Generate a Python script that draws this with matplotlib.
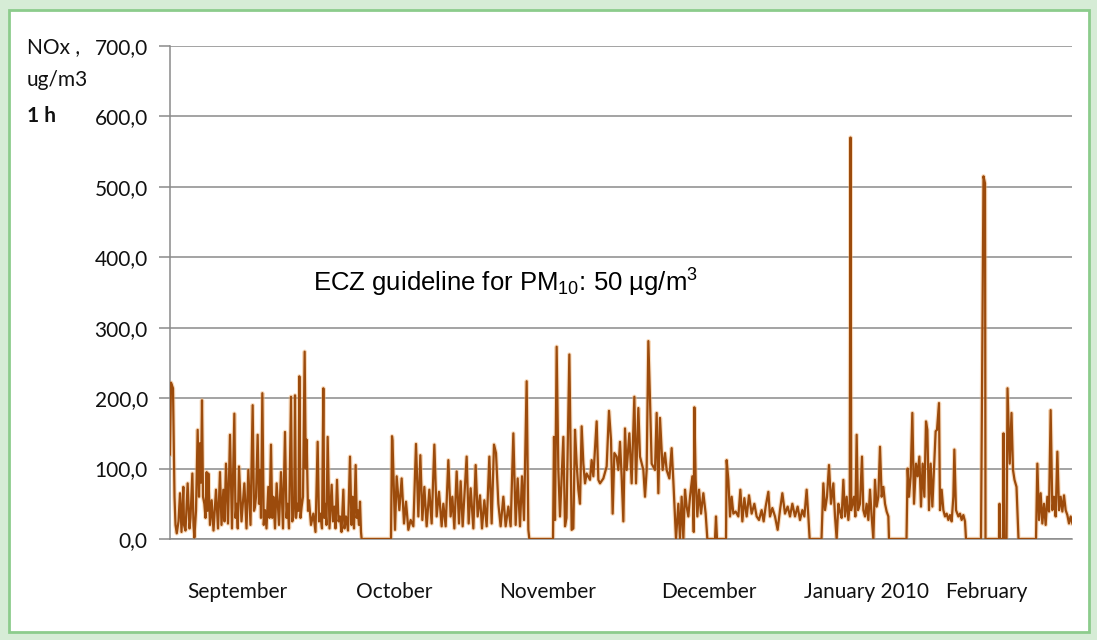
import numpy as np
import matplotlib
matplotlib.use("Agg")
import matplotlib.pyplot as plt
from matplotlib.patches import Rectangle

plt.rcParams['mathtext.fontset'] = 'custom'
plt.rcParams['mathtext.rm'] = 'Liberation Sans'
plt.rcParams['mathtext.it'] = 'Liberation Sans:italic'

# NOx hourly means, as (day since 1 Sep, ug/m3)
sep_readings = [(0.0, 120), (0.2, 222), (0.6, 214), (0.9, 60), (1.1, 20), (1.35, 8), (1.7, 25), (2.0, 65),
                (2.3, 10), (2.67, 74), (2.8, 20), (3.1, 12), (3.53, 79), (3.9, 15), (4.1, 30), (4.47, 93),
                (4.7, 20), (4.87, 2), (5.2, 40), (5.53, 155), (5.8, 60), (6.0, 136), (6.2, 80), (6.4, 197),
                (6.6, 60), (6.87, 50), (7.1, 30), (7.33, 95), (7.5, 40), (7.67, 93), (8.0, 20), (8.33, 55),
                (8.7, 12), (9.2, 70), (9.6, 15), (10.0, 95), (10.3, 20), (10.67, 70), (10.9, 25), (11.2, 107),
                (11.6, 22), (12.0, 148), (12.4, 15), (12.87, 178), (13.1, 30), (13.33, 50), (13.55, 15),
                (13.8, 103), (14.3, 25), (14.87, 79), (15.3, 15), (15.67, 98), (16.1, 20), (16.53, 190),
                (16.8, 40), (17.0, 46), (17.2, 60), (17.53, 148), (17.8, 50), (18.0, 98), (18.2, 30),
                (18.47, 207), (18.75, 20), (19.0, 41), (19.3, 15), (19.67, 74), (19.9, 30), (20.2, 134),
                (20.45, 30), (20.67, 60), (21.0, 15), (21.33, 79), (21.8, 20), (22.2, 95), (22.6, 15),
                (23.0, 152), (23.3, 30), (23.53, 50), (23.8, 15), (24.2, 202), (24.45, 25), (24.67, 32),
                (24.85, 60), (25.0, 204), (25.2, 30), (25.47, 50), (25.7, 40), (25.87, 231), (26.1, 30),
                (26.33, 46), (26.6, 60), (26.93, 266), (27.15, 100), (27.33, 141), (27.6, 40), (27.8, 55),
                (28.2, 20), (28.67, 36), (29.1, 10), (29.53, 138), (29.8, 25), (30.07, 36), (30.4, 15),
                (30.67, 214), (30.85, 30), (31.0, 50), (31.3, 20), (31.53, 145), (31.9, 15), (32.33, 77),
                (32.6, 25), (32.87, 46), (33.1, 15), (33.4, 84), (33.7, 25), (34.0, 32), (34.3, 10),
                (34.67, 70), (34.9, 15), (35.2, 32), (35.6, 12), (36.0, 117), (36.3, 20), (36.53, 60),
                (36.8, 15), (37.13, 105), (37.35, 30), (37.53, 41), (37.8, 20), (38.0, 53), (38.2, 10),
                (38.33, 0)]

oct_readings = [(44.2, 0), (44.4, 146), (44.5, 140), (45.0, 13), (45.33, 89), (45.87, 41), (46.33, 86),
                (46.8, 22), (47.2, 53), (47.67, 13), (48.13, 27), (48.67, 18), (49.2, 135), (49.67, 32),
                (50.07, 119), (50.47, 27), (50.87, 74), (51.33, 18), (51.87, 70), (52.33, 22), (52.87, 134),
                (53.33, 32), (53.8, 67), (54.33, 18), (54.67, 50), (55.13, 18), (55.67, 112), (56.13, 32),
                (56.47, 60), (56.87, 15), (57.33, 96), (57.8, 22), (58.13, 82), (58.53, 18), (59.33, 117),
                (59.73, 22), (60.13, 72), (60.67, 15), (61.13, 105), (61.53, 32), (62.0, 62), (62.4, 15),
                (62.87, 55), (63.33, 18), (63.87, 117), (64.33, 22), (64.8, 134), (65.2, 122), (65.67, 50),
                (66.13, 18), (66.67, 60), (67.13, 18), (67.67, 46), (68.13, 18), (68.67, 150), (69.13, 20),
                (69.53, 86), (70.0, 18), (70.4, 89), (70.8, 27), (71.33, 224), (71.67, 13), (71.87, 0)]

nov_readings = [(76.6, 0), (76.8, 145), (77.0, 27), (77.33, 273), (77.67, 98), (78.0, 32), (78.67, 145),
                (79.0, 18), (79.3, 30), (79.87, 262), (80.33, 13), (80.67, 15), (81.0, 155), (81.33, 107),
                (81.67, 70), (82.0, 50), (82.33, 160), (82.67, 107), (83.0, 79), (83.33, 93), (84.0, 84),
                (84.33, 112), (84.67, 89), (85.33, 167), (85.67, 84), (86.0, 79), (86.67, 86), (87.33, 103),
                (87.8, 182), (88.2, 141), (88.53, 36), (88.87, 122), (89.33, 117), (89.67, 98), (90.0, 138),
                (90.33, 89), (90.67, 25), (91.0, 157), (91.33, 98), (91.87, 150), (92.33, 79), (92.87, 202),
                (93.2, 79), (93.67, 186), (94.0, 117), (94.67, 98), (95.0, 60), (95.33, 98), (95.67, 281),
                (96.0, 198), (96.33, 107), (97.0, 98), (97.33, 179), (97.67, 65), (98.0, 172), (98.53, 98),
                (99.0, 122), (99.33, 98), (99.87, 86), (100.33, 129), (100.67, 82), (101.2, 0),
                (101.67, 50), (102.0, 0), (102.33, 60), (102.67, 0), (103.0, 70), (103.33, 46),
                (103.67, 32), (104.0, 60), (104.47, 89), (104.75, 10), (104.87, 187), (105.13, 84),
                (105.47, 32), (105.8, 70), (106.2, 36), (106.67, 65), (107.13, 36), (107.47, 0),
                (109.0, 0), (109.2, 32), (109.4, 0)]

dec_readings = [(111.2, 0), (111.33, 112), (111.67, 84), (112.0, 32), (112.33, 60), (112.67, 36),
                (113.13, 39), (113.67, 32), (114.07, 70), (114.47, 25), (114.87, 58), (115.33, 32),
                (115.8, 62), (116.33, 36), (116.87, 50), (117.33, 32), (117.8, 27), (118.33, 41),
                (118.73, 25), (119.13, 46), (119.67, 67), (120.0, 32), (120.47, 44), (121.0, 32),
                (121.53, 13), (122.0, 41), (122.47, 65), (123.0, 36), (123.53, 46), (124.0, 32),
                (124.47, 50), (125.0, 32), (125.53, 46), (126.0, 27), (126.47, 41), (126.87, 32),
                (127.33, 70), (127.67, 32), (127.93, 0)]

jan_readings = [(130.3, 0), (130.67, 79), (131.0, 41), (131.4, 60), (131.8, 105), (132.2, 50), (132.67, 79),
                (133.0, 32), (133.33, 0), (133.67, 50), (134.0, 39), (134.33, 30), (134.67, 84), (135.0, 32),
                (135.33, 60), (135.67, 27), (135.95, 50), (136.1, 570), (136.25, 41), (136.8, 60),
                (137.07, 32), (137.33, 148), (137.6, 41), (138.0, 50), (138.4, 117), (138.67, 41), (139.0, 32),
                (139.33, 50), (139.67, 27), (140.0, 70), (140.33, 32), (140.67, 0), (141.0, 84), (141.33, 46),
                (141.67, 60), (142.0, 131), (142.33, 60), (142.67, 74), (143.0, 50), (143.33, 39),
                (143.67, 32), (143.8, 0)]

feb_readings = [(147.3, 0), (147.53, 100), (147.8, 60), (148.13, 89), (148.47, 179), (148.8, 50), (149.2, 107),
                (149.53, 89), (149.87, 117), (150.2, 46), (150.53, 107), (150.87, 60), (151.2, 167),
                (151.47, 155), (151.8, 41), (152.13, 107), (152.47, 46), (152.87, 112), (153.13, 153),
                (153.4, 155), (153.8, 193), (154.0, 41), (154.33, 70), (154.67, 41), (155.0, 32), (155.33, 36),
                (155.67, 27), (156.0, 34), (156.33, 25), (156.67, 60), (156.87, 127), (157.2, 41), (157.67, 32),
                (158.0, 36), (158.33, 27), (158.67, 34), (159.0, 25), (159.2, 0),
                (162.2, 0), (162.5, 305), (162.7, 515), (163.0, 505), (163.1, 0),
                (165.8, 0), (165.9, 50), (166.0, 0), (166.6, 0), (166.7, 150), (166.85, 0), (167.3, 0),
                (167.5, 214), (167.75, 155), (167.95, 107), (168.3, 179), (168.6, 98), (168.9, 84),
                (169.3, 74), (169.7, 0),
                (173.2, 0), (173.47, 107), (173.8, 27), (174.13, 65), (174.47, 22), (174.8, 50), (175.13, 20),
                (175.47, 60), (175.8, 39), (176.13, 183), (176.47, 41), (176.8, 60), (177.13, 32), (177.47, 124),
                (177.8, 41), (178.13, 60), (178.47, 39), (178.8, 62), (179.13, 41), (179.47, 34), (179.8, 22),
                (180.13, 32), (180.47, 22)]

months = ['September', 'October', 'November', 'December', 'January 2010', 'February']
y_ticks = [0, 100, 200, 300, 400, 500, 600, 700]

readings = sep_readings + oct_readings + nov_readings + dec_readings + jan_readings + feb_readings
days = np.array([r[0] for r in readings])
nox = np.array([r[1] for r in readings])

W, H = 1097, 640
fig = plt.figure(figsize=(W / 100, H / 100), dpi=100, facecolor='#d6ecd6')
panel = Rectangle((9 / W, 8 / H), (1089 - 9) / W, (631 - 9) / H, transform=fig.transFigure,
                  facecolor='white', edgecolor='#8ccc8c', lw=2, zorder=-1)
fig.patches.append(panel)

ax = fig.add_axes([170 / W, 1 - 539 / H, (1072 - 170) / W, (539 - 46) / H])
ax.set_facecolor('none')
ax.set_xlim(0, 180.4)
ax.set_ylim(0, 700)

ax.plot(days, nox, color='#f0b070', lw=3.2, alpha=0.45, zorder=2)
ax.plot(days, nox, color='#9c4b0c', lw=1.6, zorder=3)

txt = '#111111'
ax.set_yticks(y_ticks)
ax.set_yticklabels([f"{v:.1f}".replace('.', ',') for v in y_ticks], family='Lato', fontsize=15, color=txt)
ax.yaxis.grid(True, color='#8a8a8a', lw=1.1)
ax.set_axisbelow(True)
ax.tick_params(axis='y', length=8, width=1.1, color='#8a8a8a', pad=8)

month_pos = [13.4, 44.8, 75.6, 107.8, 139.2, 163.2]
ax.set_xticks(month_pos)
ax.set_xticklabels(months, family='Lato', fontsize=15, color=txt)
ax.tick_params(axis='x', length=0, pad=31)

for s in ['top', 'right']:
    ax.spines[s].set_visible(False)
for s in ['left', 'bottom']:
    ax.spines[s].set_color('#8a8a8a')
    ax.spines[s].set_linewidth(1.1)

fig.text(27 / W, 1 - 47 / H, 'NOx ,', family='Lato', fontsize=15, va='center', ha='left', color=txt)
fig.text(27 / W, 1 - 80 / H, 'ug/m3', family='Lato', fontsize=15, va='center', ha='left', color=txt)
fig.text(27 / W, 1 - 116 / H, '1 h', family='Lato', fontsize=15, fontweight='bold', va='center', ha='left',
         color=txt)

ax.text(313 / W, 1 - 283 / H, r'ECZ guideline for PM$_{10}$: 50 µg/m$^3$', transform=fig.transFigure,
        family='Liberation Sans', fontsize=18.5, va='center', ha='left', color='black')

fig.savefig('out.png', dpi=100, facecolor=fig.get_facecolor())
